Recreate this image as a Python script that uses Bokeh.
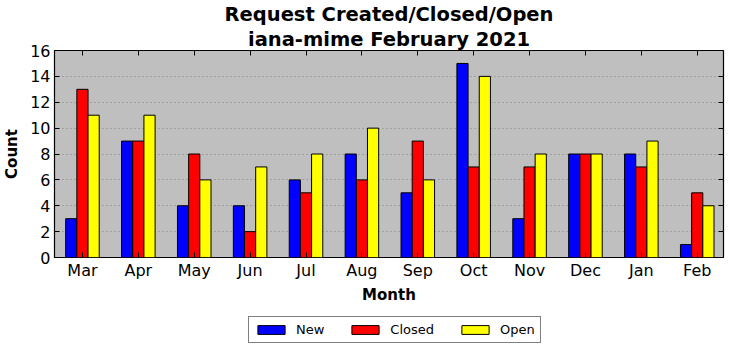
from bokeh.plotting import figure
from bokeh.layouts import column
from bokeh.models import ColumnDataSource, Range1d, FixedTicker, Legend, LegendItem, LinearAxis, Title, CustomJSTickFormatter
from bokeh.embed import file_html
from bokeh.resources import INLINE
from bokeh.transform import dodge

months = ["Mar", "Apr", "May", "Jun", "Jul", "Aug", "Sep", "Oct", "Nov", "Dec", "Jan", "Feb"]
new_vals = [3, 9, 4, 4, 6, 8, 5, 15, 3, 8, 8, 1]
closed_vals = [13, 9, 8, 2, 5, 6, 9, 7, 7, 8, 7, 5]
open_vals = [11, 11, 6, 7, 8, 10, 6, 14, 8, 8, 9, 4]
series = [("New", "new", "#0000ff", -0.2), ("Closed", "closed", "#ff0000", 0.0), ("Open", "open", "#ffff00", 0.2)]

idx = list(range(len(months)))
src = ColumnDataSource(dict(x=idx, new=new_vals, closed=closed_vals, open=open_vals))

FONT = "DejaVu Sans"
p = figure(width=725, height=310, output_backend="svg", toolbar_location=None,
           x_range=Range1d(-0.5, 11.47), y_range=Range1d(0, 16),
           background_fill_color="#bfbfbf", border_fill_color="white",
           min_border_left=48, min_border_right=2, min_border_top=46, min_border_bottom=53)
p.outline_line_color = "black"
p.outline_line_width = 1.2

w = 0.2
for name, col, color, off in series:
    p.vbar(x=dodge("x", off, range=p.x_range), top=col, width=w, source=src,
           fill_color=color, line_color="black", line_width=1)

label_map = {i: m for i, m in zip(idx, months)}
p.xaxis.ticker = FixedTicker(ticks=idx)
p.xaxis.major_label_overrides = label_map
p.yaxis.ticker = FixedTicker(ticks=list(range(0, 17, 2)))

for ax in (p.xaxis[0], p.yaxis[0]):
    ax.major_tick_in = 5
    ax.major_tick_out = 0
    ax.minor_tick_line_color = None
    ax.axis_line_color = None
    ax.major_label_text_font = FONT
    ax.major_label_text_font_size = "16px"
    ax.major_label_text_color = "black"
    ax.axis_label_text_font = FONT
    ax.axis_label_text_font_style = "bold"
    ax.axis_label_text_font_size = "15px"
    ax.axis_label_text_color = "black"
    ax.major_tick_line_color = "black"
p.xaxis.axis_label = "Month"
p.yaxis.axis_label = "Count"
p.xaxis.major_label_standoff = 3
p.yaxis.major_label_standoff = 4
p.xaxis.axis_label_standoff = 3
p.yaxis.axis_label_standoff = 6

blank = CustomJSTickFormatter(code="return ''")
top_ax = LinearAxis(ticker=FixedTicker(ticks=idx), formatter=blank,
                    major_tick_in=5, major_tick_out=0, minor_tick_line_color=None,
                    axis_line_color=None, major_label_standoff=0,
                    major_label_text_font_size="1px")
right_ax = LinearAxis(ticker=FixedTicker(ticks=list(range(0, 17, 2))), formatter=blank,
                      major_tick_in=5, major_tick_out=0, minor_tick_line_color=None,
                      axis_line_color=None, major_label_standoff=0,
                      major_label_text_font_size="1px")
p.add_layout(top_ax, "above")
p.add_layout(right_ax, "right")

p.xgrid.grid_line_color = None
p.ygrid.grid_line_color = "#808080"
p.ygrid.grid_line_dash = "1 3"
p.ygrid.grid_line_width = 1

p.add_layout(Title(text="iana-mime February 2021", align="center", text_font=FONT,
                   text_font_size="19.5px", text_font_style="bold", text_color="black",
                   standoff=0), "above")
p.add_layout(Title(text="Request Created/Closed/Open", align="center", text_font=FONT,
                   text_font_size="19.5px", text_font_style="bold", text_color="black",
                   standoff=0), "above")

# legend figure below the chart
lf = figure(width=725, height=35, output_backend="svg", toolbar_location=None,
            x_range=Range1d(-0.5, 11.47), y_range=Range1d(100, 101),
            x_axis_location=None, y_axis_location=None,
            min_border=0, outline_line_color=None, background_fill_color="white")
lf.grid.grid_line_color = None
items = []
for name, col, color, off in series:
    r = lf.vbar(x="x", top=col, width=w, source=src,
                fill_color=color, line_color="black", line_width=1)
    items.append(LegendItem(label=name, renderers=[r]))

legend = Legend(items=items, orientation="horizontal", location=(194, 2),
                label_text_font=FONT, label_text_font_size="13px", label_text_color="black",
                border_line_color="black", border_line_width=1,
                glyph_width=34, glyph_height=11, spacing=24, padding=5,
                margin=0, label_standoff=8, background_fill_alpha=1)
lf.add_layout(legend, "center")

layout = column(p, lf, spacing=0)
open("out.html", "w").write(file_html(layout, INLINE))
